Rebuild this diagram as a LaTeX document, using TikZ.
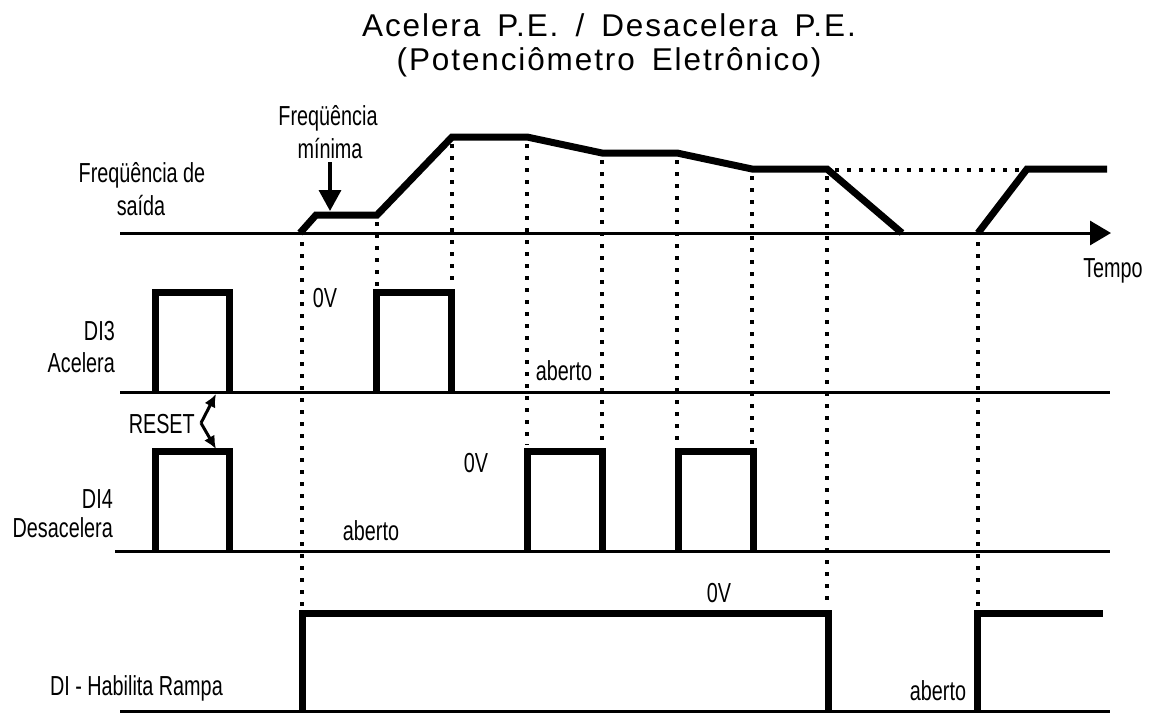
\documentclass[tikz,border=0pt]{standalone}
\usepackage{fontspec}
\setmainfont{Liberation Sans}
\newfontfamily\narrowfont[FakeStretch=0.72]{Liberation Sans}
\newfontfamily\titlefont[LetterSpace=6,WordSpace=1.6]{Liberation Sans}
\usetikzlibrary{arrows.meta}
\begin{document}
\begin{tikzpicture}[x=1pt,y=-1pt,
  lbl/.style={font=\narrowfont\fontsize{27.5}{30}\selectfont, inner sep=0pt},
  ttl/.style={font=\titlefont\fontsize{31.5}{36}\selectfont, inner sep=0pt, anchor=base},
  wave/.style={line width=7pt, line join=miter, line cap=butt},
  baseln/.style={line width=3pt},
  guide/.style={line width=3.5pt, dash pattern=on 3.5pt off 8.5pt},
  resetarrow/.style={line width=3pt, -{Latex[length=13pt,width=12pt]}},
]
\useasboundingbox (0,0) rectangle (1151,713);

% title
\node[ttl] (t1) at (609,36) {Acelera P.E. / Desacelera P.E.};
\node[ttl] (t2) at (609,70) {(Potenciômetro Eletrônico)};

% base lines
\coordinate (axS) at (120,233);
\coordinate (axE) at (1111,233);
\draw[baseln, -{Triangle[length=21pt,width=24pt]}] (axS) -- (axE);
\draw[baseln] (120,392) -- (1110,392);
\draw[baseln] (115,551) -- (1110,551);
\draw[baseln] (120,711) -- (1110,711);

% guides
\draw[guide] (835,170) -- (1022,170);
\draw[guide] (302,242) -- (302,607);
\draw[guide] (377,222) -- (377,286);
\draw[guide] (452,144) -- (452,286);
\draw[guide] (527,144) -- (527,445);
\draw[guide] (602,160) -- (602,445);
\draw[guide] (677,160) -- (677,445);
\draw[guide] (752,176) -- (752,445);
\draw[guide] (827,176) -- (827,607);
\draw[guide] (978,242) -- (978,607);

% output frequency
\draw[wave] (300,233) -- (316,215) -- (377,215) -- (452,137) -- (527,137)
  -- (602,153) -- (677,153) -- (752,169) -- (827,169) -- (902,233);
\draw[wave] (978,233) -- (1027,169) -- (1107,169);

% DI3
\draw[wave] (155,392) -- (155,292) -- (229,292) -- (229,392);
\draw[wave] (376,392) -- (376,292) -- (451,292) -- (451,392);

% DI4
\draw[wave] (155,551) -- (155,451) -- (229,451) -- (229,551);
\draw[wave] (527,551) -- (527,451) -- (602,451) -- (602,551);
\draw[wave] (678,551) -- (678,451) -- (753,451) -- (753,551);

% DI habilita rampa
\draw[wave] (302,711) -- (302,613) -- (828,613) -- (828,711);
\draw[wave] (977,711) -- (977,613) -- (1103,613);

% labels
\node[lbl, anchor=base] (fs1) at (142,182) {Freqüência de};
\node[lbl, anchor=base] (fs2) at (141,215) {saída};
\node[lbl, anchor=base] (fm1) at (328,125) {Freqüência};
\node[lbl, anchor=base] (fm2) at (330,158) {mínima};
\coordinate (fmtip) at (330,211);
\draw[line width=3.5pt, -{Triangle[length=21pt,width=22pt]}] ([yshift=-4pt]fm2.south) -- (fmtip);

\node[lbl, anchor=base east] (di3) at (115,340) {DI3};
\node[lbl, anchor=base east] (acel) at (115,372) {Acelera};
\node[lbl, anchor=base east] (di4) at (113,508) {DI4};
\node[lbl, anchor=base east] (desac) at (113,537) {Desacelera};
\node[lbl, anchor=base east] (hab) at (223,695) {DI - Habilita Rampa};
\node[lbl, anchor=base] (ov1) at (325,307) {0V};
\node[lbl, anchor=base] (ab1) at (564,380) {aberto};
\node[lbl, anchor=base] (ov2) at (476,472) {0V};
\node[lbl, anchor=base] (ab2) at (371,540) {aberto};
\node[lbl, anchor=base] (ov3) at (719,602) {0V};
\node[lbl, anchor=base] (ab3) at (938,700) {aberto};
\node[lbl, anchor=base] (tempo) at (1113,277) {Tempo};

% reset
\node[lbl, anchor=base east] (reset) at (195,433) {RESET};
\coordinate (rv) at (201,423);
\coordinate (rtop) at (216,394);
\coordinate (rbot) at (216,449);
\draw[resetarrow] (rv) -- (rtop);
\draw[resetarrow] (rv) -- (rbot);
\end{tikzpicture}
\end{document}
